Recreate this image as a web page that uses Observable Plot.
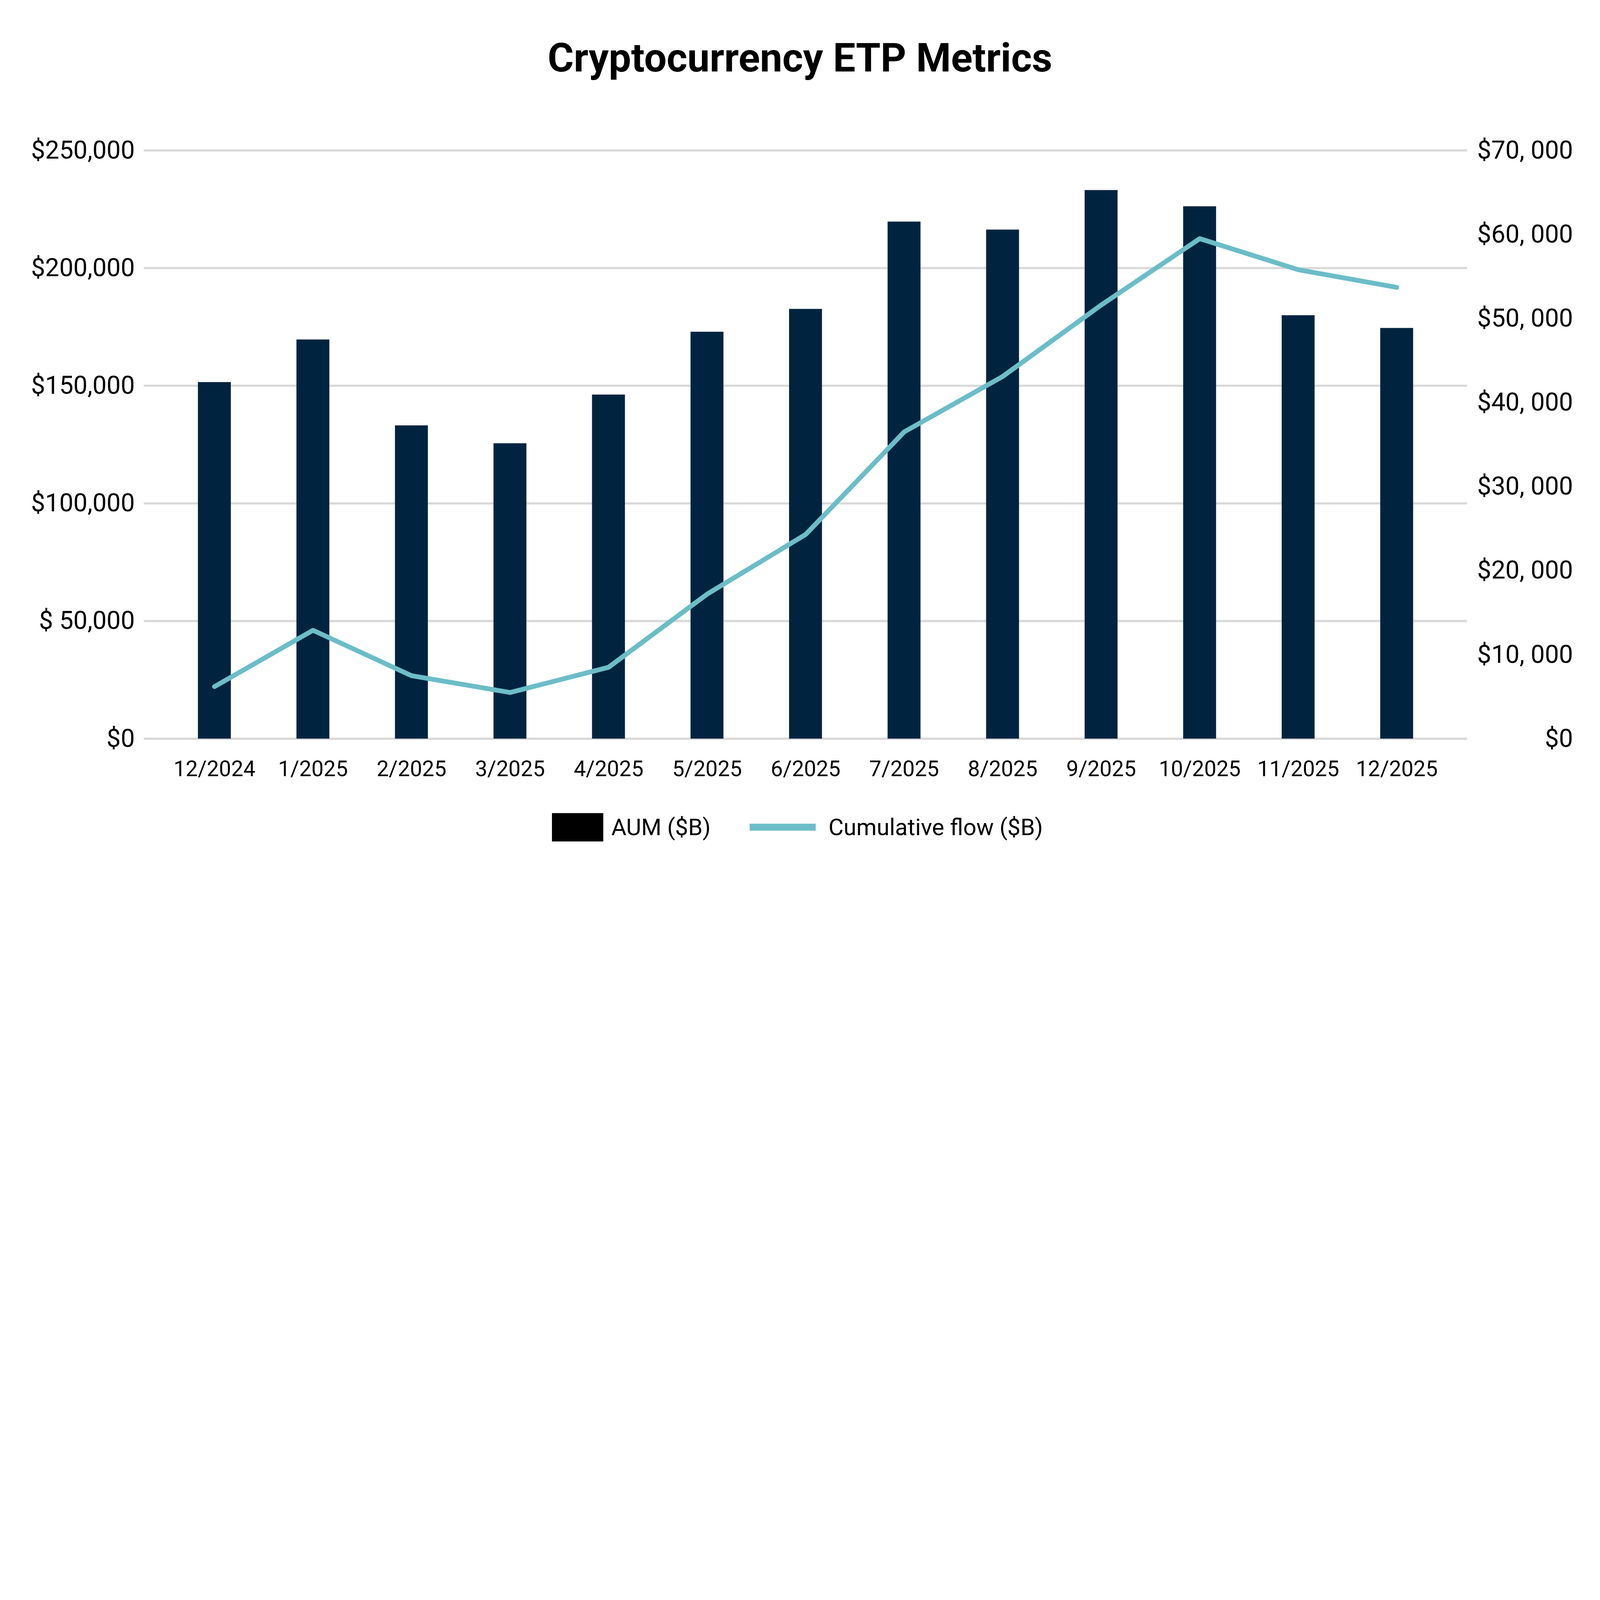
<!DOCTYPE html>
<html>
<head>
<meta charset="utf-8">
<script src="https://cdn.jsdelivr.net/npm/d3@7"></script>
<script src="https://cdn.jsdelivr.net/npm/@observablehq/plot@0.6"></script>
<style>
  html, body { margin: 0; padding: 0; background: #fff; }
  body { font-family: Roboto, "Noto Sans", sans-serif; color: #000; overflow: hidden; }
  #page { width: 7389px; height: 4105px; position: relative; transform-origin: 0 0; background: #fff; }
  #title { box-sizing: border-box; height: 480px; padding-top: 176px; text-align: center; font-size: 184px; font-weight: 700; line-height: 1; }
  #chart svg { display: block; }
  #legend { position: relative; height: 405px; width: 7389px; }
  #legend .sw { position: absolute; }
  #legend .lt { position: absolute; font-size: 107px; line-height: 1; white-space: nowrap; top: 67px; }
</style>
</head>
<body>
<div id="page">
<div id="title">Cryptocurrency ETP Metrics</div>
<div id="chart"></div>
<div id="legend">
  <div class="sw" style="left:2549px; top:55px; width:237px; height:131px; background:#000;"></div>
  <div class="lt" style="left:2823px;">AUM ($B)</div>
  <div class="sw" style="left:3462px; top:104px; width:305px; height:32px; background:#6BBDC7;"></div>
  <div class="lt" style="left:3826px;">Cumulative flow ($B)</div>
</div>
</div>
<script>
const months = ["12/2024", "1/2025", "2/2025", "3/2025", "4/2025", "5/2025", "6/2025",
                "7/2025", "8/2025", "9/2025", "10/2025", "11/2025", "12/2025"];
const aum = [151500, 169600, 133100, 125500, 146200, 172900, 182600,
             219700, 216300, 233100, 226200, 179900, 174500];
const flow = [6200, 12900, 7500, 5500, 8500, 17200, 24300,
              36500, 43100, 51600, 59500, 55800, 53700];

const leftMax = 250000;
const rightMax = 70000;
const leftTickValues = [0, 50000, 100000, 150000, 200000, 250000];
const leftTickLabels = ["$0", "$ 50,000", "$100,000", "$150,000", "$200,000", "$250,000"];
const rightTickValues = [0, 10000, 20000, 30000, 40000, 50000, 60000, 70000];
const rightTickLabels = ["$0", "$10, 000", "$20, 000", "$30, 000", "$40, 000", "$50, 000", "$60, 000", "$70, 000"];

const data = months.map((m, i) => ({month: m, aum: aum[i], flow: flow[i]}));
const k = leftMax / rightMax;
const leftFmt = new Map(leftTickValues.map((v, i) => [v, leftTickLabels[i]]));
const rightPos = rightTickValues.map(v => v * k);

const chart = Plot.plot({
  width: 7389,
  height: 3220,
  marginTop: 214,
  marginBottom: 289,
  marginLeft: 664,
  marginRight: 614,
  style: {fontFamily: "Roboto, 'Noto Sans', sans-serif", background: "white", color: "#000", overflow: "visible"},
  x: {domain: months, paddingInner: 0.6665, paddingOuter: 0.537, align: 0.5, label: null},
  y: {domain: [0, leftMax], label: null},
  marks: [
    Plot.gridY(leftTickValues, {stroke: "#D9D9D9", strokeOpacity: 1, strokeWidth: 10}),
    Plot.barY(data, {x: "month", y: "aum", fill: "#00243F"}),
    Plot.line(data, {x: "month", y: d => d.flow * k, stroke: "#6BBDC7", strokeWidth: 22,
                     strokeLinecap: "round", strokeLinejoin: "round"}),
    Plot.axisX({tickSize: 0, tickPadding: 102, fontSize: 100, label: null}),
    Plot.axisY(leftTickValues, {anchor: "left", tickSize: 0, tickPadding: 42, fontSize: 116, label: null,
                                tickFormat: d => leftFmt.get(d)}),
    Plot.axisY(rightPos, {anchor: "right", tickSize: 0, tickPadding: 489, fontSize: 116, label: null,
                          textAnchor: "end",
                          tickFormat: d => rightTickLabels[Math.round(d / k / 10000)]})
  ]
});
document.getElementById("chart").appendChild(chart);

// The browser window may be narrower than the 7389px design; scale the whole page to fit.
const vw = document.documentElement.clientWidth || window.innerWidth;
const s = Math.min(1, vw / 7389);
if (s < 1) {
  document.getElementById("page").style.transform = `scale(${s})`;
}
</script>
</body>
</html>
